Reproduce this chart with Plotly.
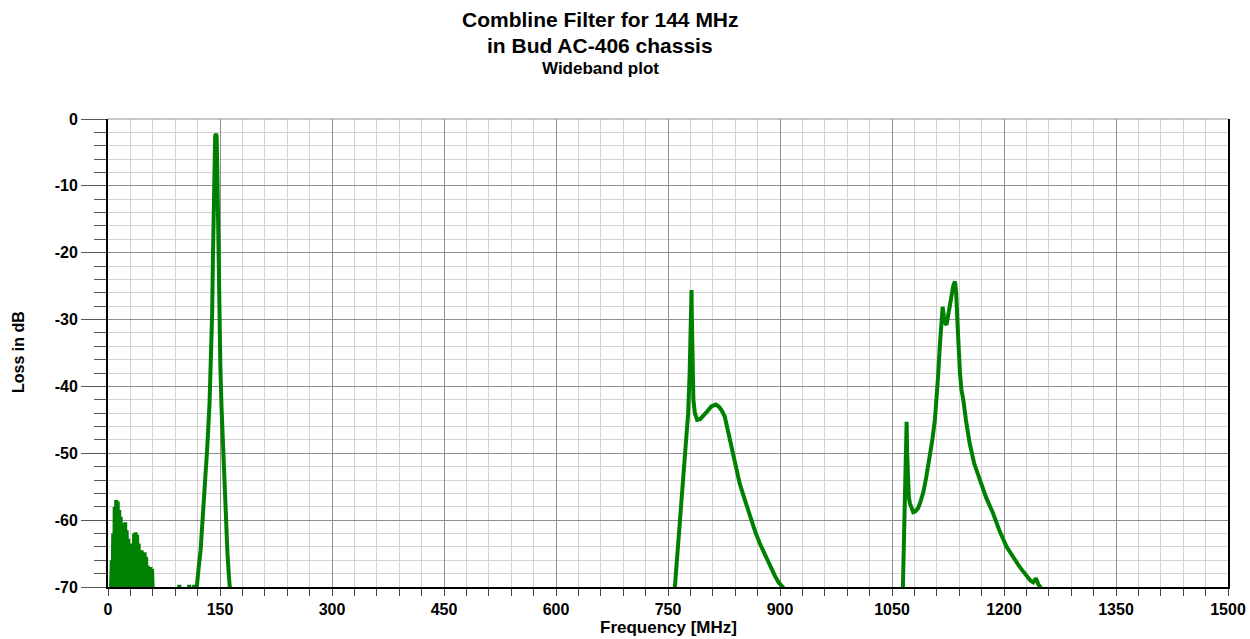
import plotly.graph_objects as go

# ---------------- data ----------------
# low-frequency ripple region (dense oscillation near the noise floor)
low_freq = [4, 5, 6, 7, 8, 9, 10, 11, 12, 13, 14, 15, 16, 17, 18, 19, 20, 21, 22, 23,
            24, 25, 26, 27, 28, 29, 30, 31, 32, 33, 34, 35, 36, 37, 38, 39, 40, 41, 42,
            43, 44, 45, 46, 47, 48, 49, 50, 51, 52, 53, 54, 55, 56, 57, 58, 59, 60, 61]
low_loss = [-71, -66, -71, -62, -71, -58, -71.5, -57, -71, -57.2, -71, -58.5, -71, -59.5,
            -71, -60.5, -71, -61, -71, -60.3, -71, -61.5, -71, -62.8, -71, -63.5, -71, -64,
            -71, -63.5, -71, -62, -71, -61.8, -71, -62.2, -71, -63.5, -71, -64.5, -71, -64.5,
            -71, -64.8, -71, -64.8, -71, -65.5, -71, -66.8, -71, -67, -71, -67, -71, -67.3,
            -71, -71]

# isolated blips just above the floor
blip_freq = [94.5, 95.5, 96.5, None, 107.8, 108.8, 109.8, None, 114.5, 115.5, 116.5]
blip_loss = [-70.8, -69.7, -70.8, None, -70.8, -69.7, -70.8, None, -70.8, -69.7, -70.8]

# main passband at 144 MHz
p1_freq = [118.5, 120, 121.5, 124, 127, 130, 133, 136, 138, 139.5, 140.5, 141.5, 142.5,
           143.5, 144.5, 145.5, 146.3, 147, 147.6, 148.2, 149, 150.5, 152, 154, 156, 158,
           160, 162, 163.5]
p1_loss = [-70.5, -68, -67, -64.5, -60, -55, -49, -42.5, -36, -29, -21, -13, -6, -2.6,
           -2.2, -2.6, -7, -14, -20, -25, -31, -37, -43, -49, -55, -60.5, -65, -68.5, -70.5]

# spurious response near 780-900 MHz
p2_freq = [759, 765, 770, 774, 777, 779, 780, 780.8, 781.5, 782, 782.5, 783, 784, 786,
           789, 793, 797, 802, 808, 814, 818, 822, 826, 830, 835, 840, 846, 853, 860, 867,
           873, 880, 887, 893, 898, 903, 906]
p2_loss = [-70.3, -62, -55, -49, -44, -38, -33, -28, -25.6, -30, -37, -40, -42, -44, -45,
           -44.9, -44.5, -43.8, -43, -42.7, -43, -43.6, -44.5, -46.5, -49.5, -52, -54.5,
           -57, -59.5, -61.8, -63.5, -65.3, -67, -68.3, -69.3, -70, -70.3]

# spurious response near 1065-1250 MHz
p3_freq = [1064.5, 1065.5, 1067, 1068.2, 1069, 1069.6, 1070.3, 1071, 1072.5, 1074, 1076,
           1078.4, 1081, 1085, 1088, 1092, 1096, 1100.5, 1104, 1107.5, 1110, 1112, 1114,
           1116, 1117.8, 1119.5, 1121, 1123, 1125, 1127.5, 1130, 1132, 1134.3, 1136, 1137.5,
           1139, 1141, 1143, 1145.5, 1149, 1154, 1160, 1167.5, 1176, 1185.5, 1194, 1203.5,
           1212, 1221, 1228, 1235, 1239, 1242.8, 1246, 1250.5]
p3_loss = [-70.5, -66, -60.5, -54, -48, -45.3, -50, -54.5, -56.5, -57.5, -58.3, -58.8,
           -58.7, -58.2, -57.3, -55.8, -53.5, -50.8, -48, -45, -41.5, -38, -34, -29.5, -28.1,
           -29.5, -30.5, -30.8, -29.5, -27.5, -26, -25, -24.3, -26, -30, -34.5, -38, -40.5,
           -42, -45, -48.5, -51.5, -54, -56.6, -59, -61.6, -64, -65.5, -67, -68, -69, -69.3,
           -68.7, -69.6, -70.3]

x_ticks = [0, 150, 300, 450, 600, 750, 900, 1050, 1200, 1350, 1500]
y_ticks = [0, -10, -20, -30, -40, -50, -60, -70]

title_lines = ["Combline Filter for 144 MHz", "in Bud AC-406 chassis", "Wideband plot"]
x_label = "Frequency [MHz]"
y_label = "Loss in dB"

# ---------------- figure ----------------
GREEN = "#008000"
FONT = "Liberation Sans, Arial, sans-serif"

fig = go.Figure()
segments = [(low_freq, low_loss, 4), (blip_freq, blip_loss, 4), (p1_freq, p1_loss, 4),
            (p2_freq, p2_loss, 4), (p3_freq, p3_loss, 4)]
for fx, fy, w in segments:
    fig.add_trace(go.Scatter(x=fx, y=fy, mode="lines",
                             line=dict(color=GREEN, width=w),
                             connectgaps=False, hoverinfo="x+y", showlegend=False))

fig.update_layout(
    width=1250, height=639,
    margin=dict(l=108, r=22, t=119, b=52, autoexpand=False),
    paper_bgcolor="white", plot_bgcolor="white",
    showlegend=False,
    font=dict(family=FONT, color="black"),
)

fig.update_xaxes(
    range=[0, 1500], tickvals=x_ticks, ticktext=[str(v) for v in x_ticks],
    automargin=False,
    showline=True, linecolor="black", linewidth=2, mirror=False,
    ticks="outside", ticklen=7, tickcolor="#444", tickwidth=1,
    showgrid=True, gridcolor="#8f8f8f", gridwidth=1, zeroline=False,
    tickfont=dict(family=FONT, size=16, color="black", weight="bold"),
    minor=dict(dtick=30, tick0=0, ticks="outside", ticklen=7, tickcolor="#444",
               showgrid=True, gridcolor="#d4d4d4", gridwidth=1),
)
fig.update_yaxes(
    range=[-70, 0], tickvals=y_ticks, ticktext=[str(v) for v in y_ticks],
    automargin=False,
    showline=True, linecolor="black", linewidth=2, mirror=True,
    ticks="outside", ticklen=25, tickcolor="#555", tickwidth=1,
    showgrid=True, gridcolor="#8f8f8f", gridwidth=1, zeroline=False,
    tickfont=dict(family=FONT, size=16, color="black", weight="bold"),
    minor=dict(dtick=2, tick0=0, ticks="outside", ticklen=12, tickcolor="#555",
               showgrid=True, gridcolor="#d4d4d4", gridwidth=1),
)

# top boundary line (major grid colour)
fig.add_shape(type="line", xref="x", yref="paper", x0=0, x1=1500, y0=1, y1=1,
              line=dict(color="#8f8f8f", width=1))

# titles
title_specs = [(title_lines[0], 1.212, 21), (title_lines[1], 1.156, 21), (title_lines[2], 1.107, 17)]
for txt, yy, sz in title_specs:
    fig.add_annotation(text=txt, x=0.4393, y=yy, xref="paper", yref="paper",
                       showarrow=False, xanchor="center", yanchor="middle",
                       font=dict(family=FONT, size=sz, color="black", weight="bold"))

fig.add_annotation(text=x_label, x=0.5, y=-0.0855, xref="paper", yref="paper",
                   showarrow=False, xanchor="center", yanchor="middle",
                   font=dict(family=FONT, size=17, color="black", weight="bold"))
fig.add_annotation(text=y_label, x=-0.0804, y=0.502, xref="paper", yref="paper",
                   showarrow=False, xanchor="center", yanchor="middle", textangle=-90,
                   font=dict(family=FONT, size=16, color="black", weight="bold"))

fig.write_html("out.html", config={"displayModeBar": False})

# remove the browser's default page margin so the figure sits at the window origin
with open("out.html", "r", encoding="utf-8") as fh:
    html = fh.read()
html = html.replace("<head>", "<head><style>html,body{margin:0;padding:0;overflow:hidden;}</style>", 1)
with open("out.html", "w", encoding="utf-8") as fh:
    fh.write(html)
